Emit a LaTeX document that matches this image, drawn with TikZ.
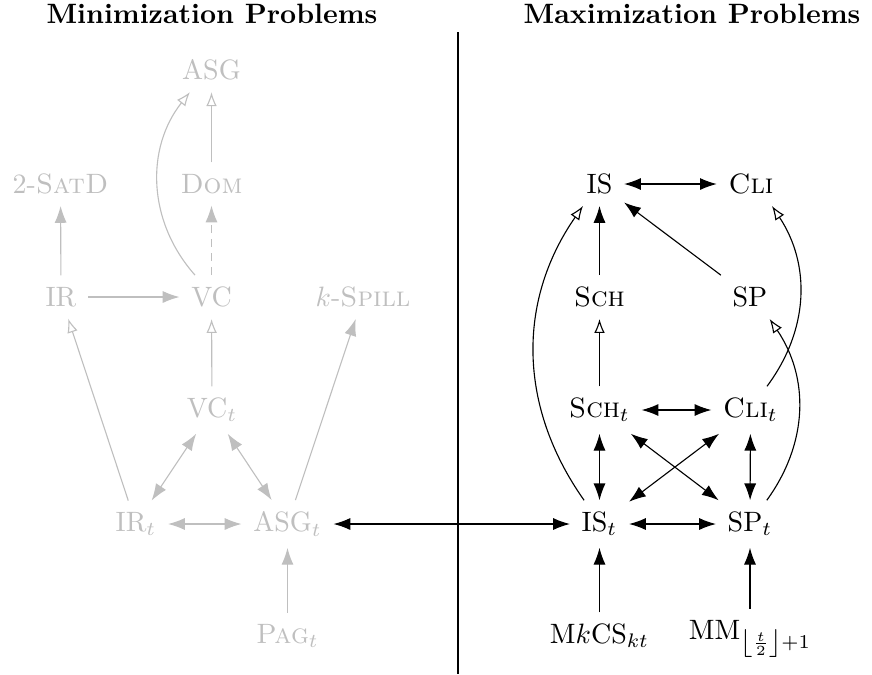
\documentclass[tikz,border=0pt]{standalone}
\usetikzlibrary{arrows.meta}
\begin{document}
\begin{tikzpicture}[x=0.357pt,y=0.357pt,
  every node/.style={inner sep=4pt},
  lite/.style={text=black!25},
  ar/.style={draw, line width=0.4pt, -{Latex[length=6pt,width=4.3pt]}},
  bi/.style={draw, line width=0.4pt, {Latex[length=6pt,width=4.3pt]}-{Latex[length=6pt,width=4.3pt]}},
  op/.style={draw, line width=0.4pt, -{Latex[open,length=5pt,width=3.8pt]}},
  gr/.style={black!25},
  title/.style={font=\bfseries}]
\useasboundingbox (0,0) rectangle (872,-674);

% titles and separator
\node[title] (tmin) at (212,-14) {Minimization Problems};
\node[title] (tmax) at (692,-14) {Maximization Problems};
\coordinate (ltop) at (458,-32);
\coordinate (lbot) at (458,-674);
\draw[line width=0.4pt] (ltop) -- (lbot);

% minimization side (light)
\node[lite] (asg)   at (211.5,-70)  {ASG};
\node[lite] (dom)   at (211.5,-184) {\textsc{Dom}};
\node[lite] (sat)   at (60.5,-184)  {2-\textsc{SatD}};
\node[lite] (ir)    at (61,-297)    {IR};
\node[lite] (vc)    at (211.5,-297) {VC};
\node[lite] (spill) at (363,-297)   {$k$-\textsc{Spill}};
\node[lite] (vct)   at (212,-410)   {VC$_t$};
\node[lite] (irt)   at (136,-524)   {IR$_t$};
\node[lite] (asgt)  at (287.5,-524) {ASG$_t$};
\node[lite] (pagt)  at (287.5,-636) {\textsc{Pag}$_t$};

% maximization side
\node (is)   at (599.5,-184) {IS};
\node (cli)  at (751,-184)   {\textsc{Cli}};
\node (sch)  at (599.5,-297) {\textsc{Sch}};
\node (sp)   at (750,-297)   {SP};
\node (scht) at (599.5,-410) {\textsc{Sch}$_t$};
\node (clit) at (750.5,-410) {\textsc{Cli}$_t$};
\node (ist)  at (599.5,-524) {IS$_t$};
\node (spt)  at (750,-524)   {SP$_t$};
\node (mkcs) at (599.5,-636) {M$k$CS$_{kt}$};
\node (mm)   at (750,-639)   {MM$_{\left\lfloor\frac{t}{2}\right\rfloor+1}$};

% light edges
\draw[op,gr] (dom) -- (asg);
\draw[op,gr] ([xshift=-5.9pt]vc.north) to[bend left=40] ([xshift=-7.7pt]asg.south);
\draw[ar,gr,dash pattern=on 3pt off 2pt] (vc) -- (dom);
\draw[ar,gr] (ir) -- (sat);
\draw[ar,gr] (ir) -- (vc);
\draw[op,gr] (irt) -- (ir);
\draw[op,gr] (vct) -- (vc);
\draw[ar,gr] (asgt) -- (spill);
\draw[bi,gr] (vct) -- (irt);
\draw[bi,gr] (vct) -- (asgt);
\draw[bi,gr] (irt) -- (asgt);
\draw[ar,gr] (pagt) -- (asgt);

% crossing edge
\draw[bi] (asgt) -- (ist);

% dark edges
\draw[bi] (is) -- (cli);
\draw[ar] (sch) -- (is);
\draw[ar] (sp) -- (is);
\draw[op] (scht) -- (sch);
\draw[op] ([xshift=-5.5pt]ist.north) to[bend left=35] ([xshift=-5.9pt]is.south);
\draw[op] ([xshift=5.9pt]clit.north) to[bend right=35] ([xshift=7.5pt]cli.south);
\draw[op] ([xshift=6pt]spt.north) to[bend right=35] ([xshift=7pt]sp.south);
\draw[bi] (scht) -- (clit);
\draw[bi] (scht) -- (ist);
\draw[bi] (clit) -- (spt);
\draw[bi] (scht) -- (spt);
\draw[bi] (clit) -- (ist);
\draw[bi] (ist) -- (spt);
\draw[ar] (mkcs) -- (ist);
\draw[ar] (mm) -- (spt);
\end{tikzpicture}
\end{document}
